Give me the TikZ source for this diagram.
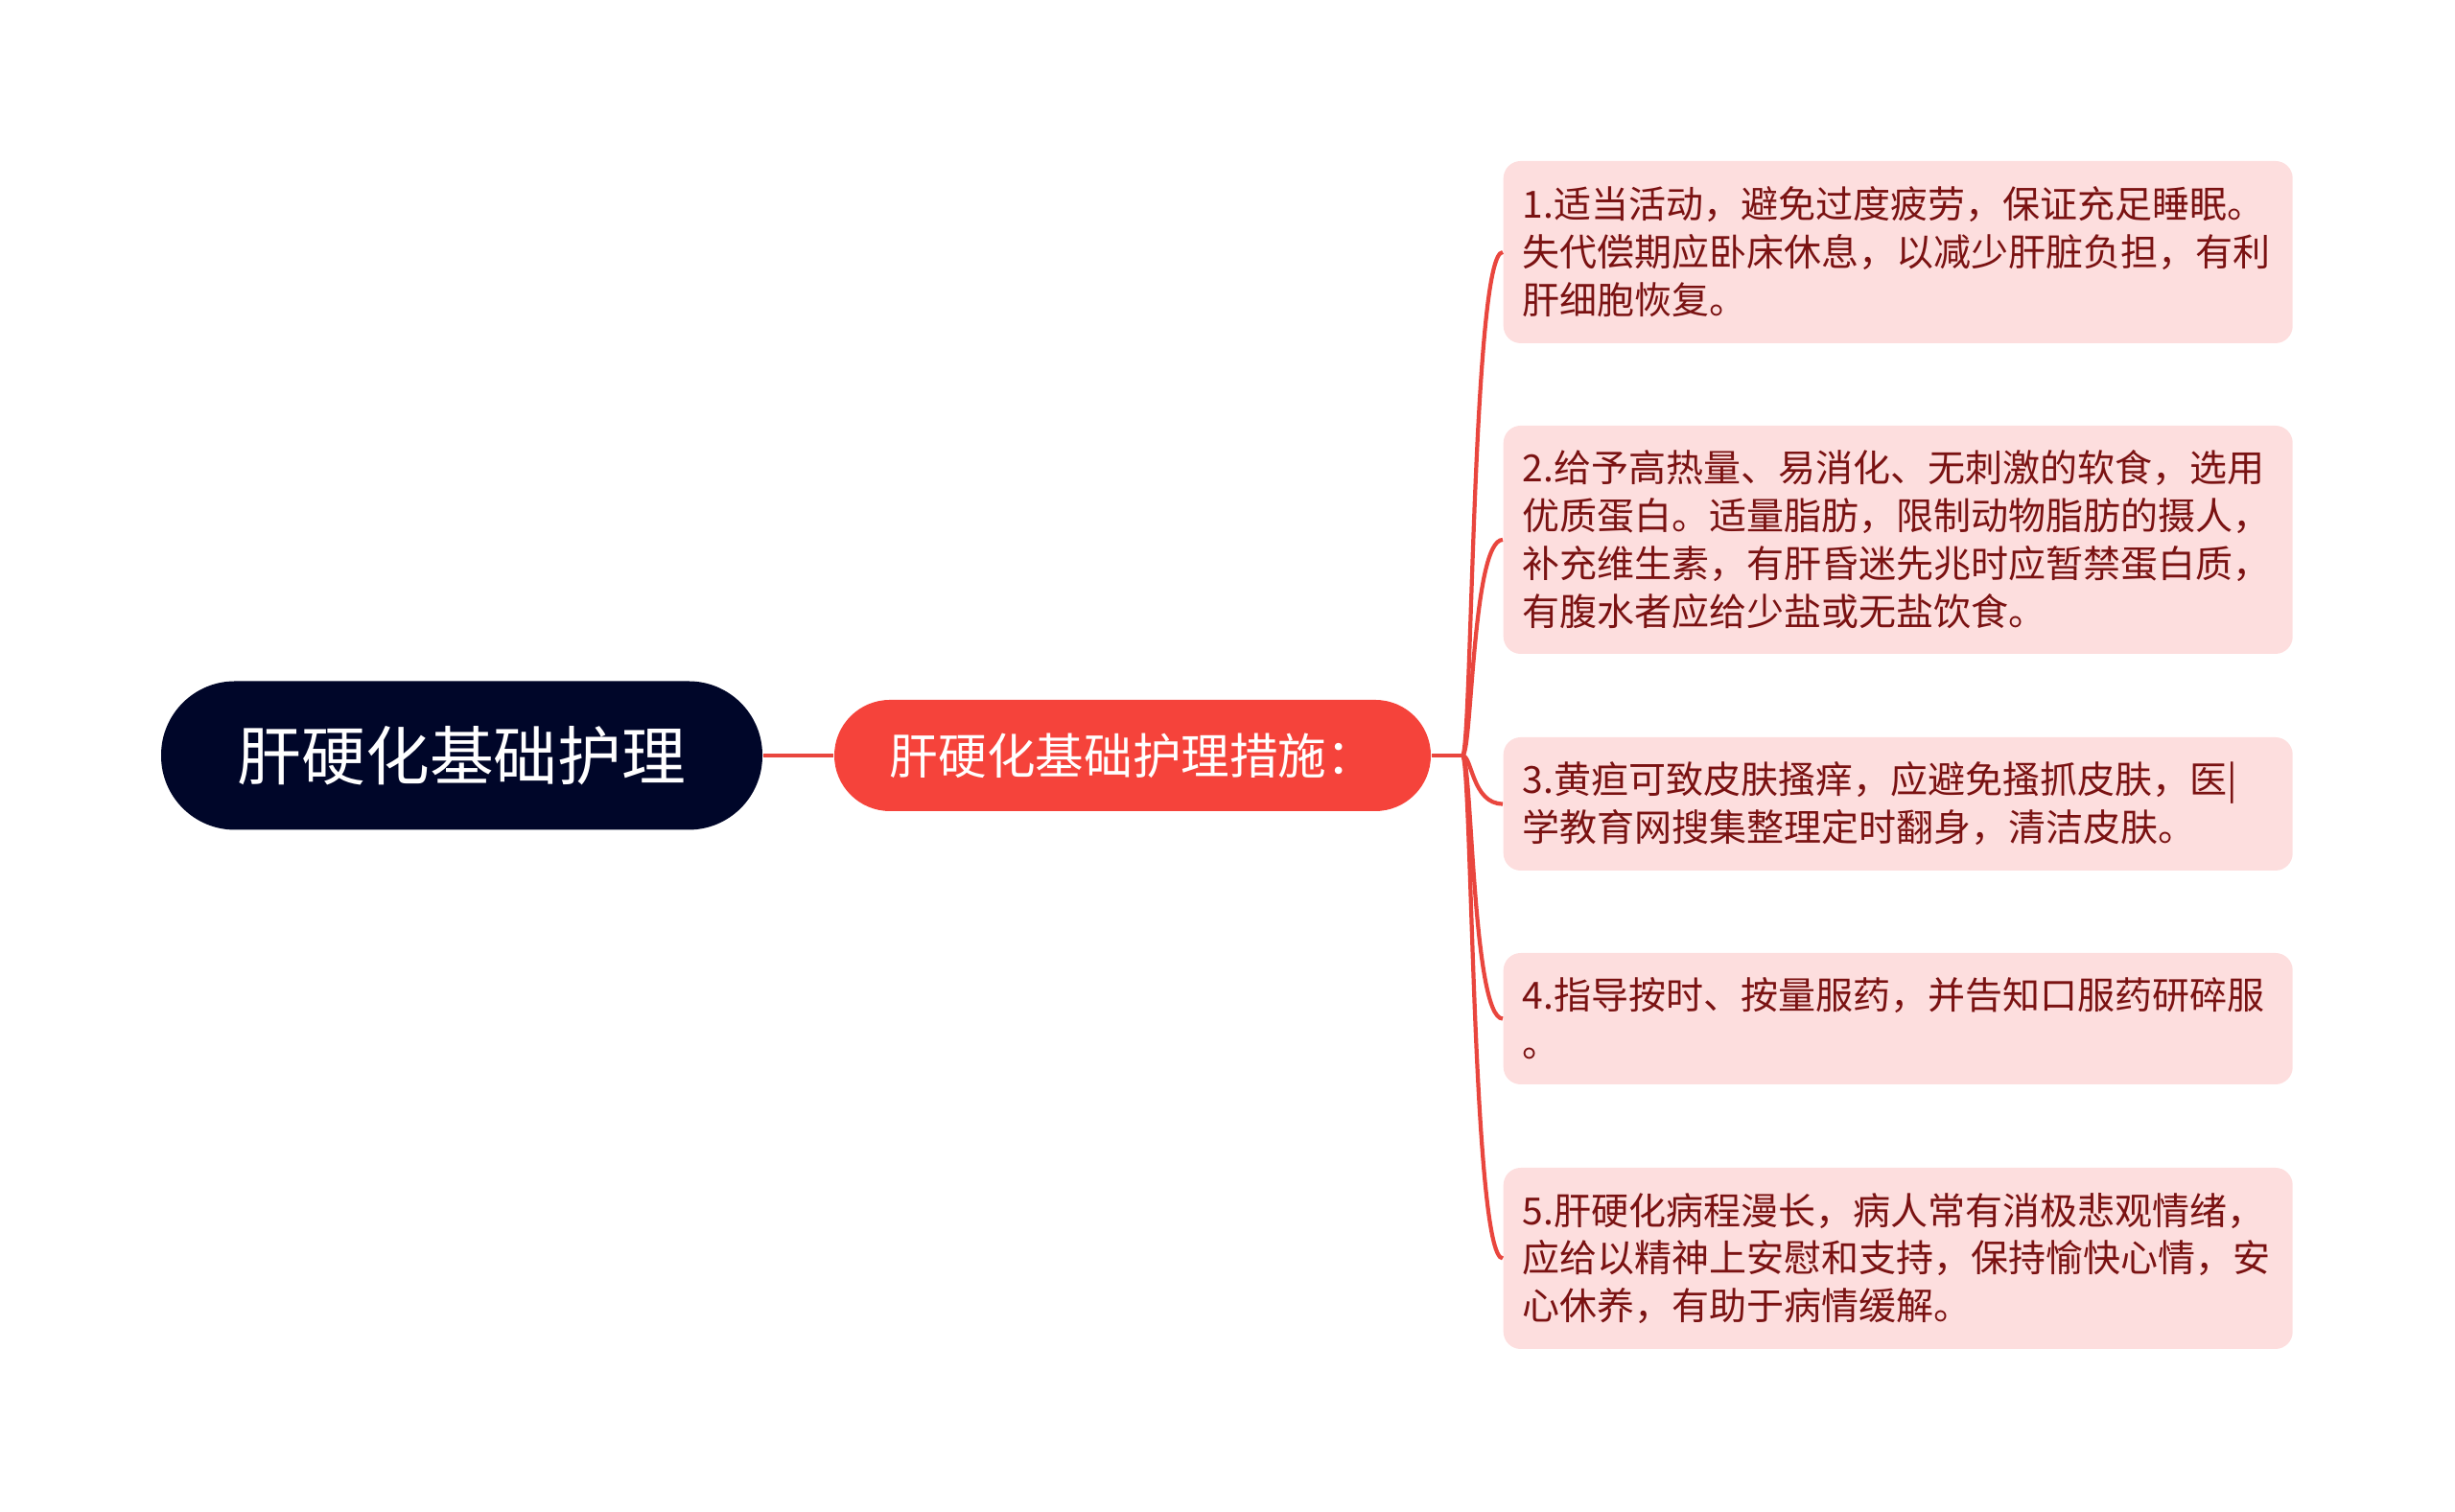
\documentclass[tikz,border=0pt]{standalone}
\usepackage{fontspec}
\setmainfont{Noto Sans CJK SC}
\definecolor{rootblue}{HTML}{000629}
\definecolor{branchred}{HTML}{F5433B}
\definecolor{leafpink}{HTML}{FDDEDE}
\definecolor{leaftext}{HTML}{7A1212}
\definecolor{linkred}{HTML}{E9463E}
\newcommand{\Tip}[3]{%
  node (#1) [tip, minimum height=#2] {#3};
}

\begin{document}
\begin{tikzpicture}[
    root/.style={fill=rootblue, text=white, rounded corners=0.77cm,
      minimum width=6.27cm, minimum height=1.55cm, font=\fontsize{19}{22}\selectfont},
    branch/.style={fill=branchred, text=white, rounded corners=0.58cm,
      minimum width=6.22cm, minimum height=1.16cm, font=\fontsize{14.4}{17}\selectfont},
    tip/.style={fill=leafpink, text=leaftext, rounded corners=0.18cm, anchor=west,
      text width=7.83cm, inner xsep=0.2cm, inner ysep=0.2cm, align=left,
      font=\fontsize{11.1}{14.2}\selectfont},
    link/.style={draw=linkred, line width=1.2pt}
  ]
    \useasboundingbox (0,0) rectangle (25.6,15.77);

    \node (root) [root] at (4.815,7.89) {肝硬化基础护理};
    \node (measures) [branch] at (11.81,7.89) {肝硬化基础护理措施：};

    \draw (15.67,13.14) \Tip{rest}{1.9cm}
      {1.适当活动，避免过度疲劳，保证充足睡眠。\\失代偿期应卧床休息，以减少肝脏负担，有利\\肝细胞恢复。}
    \draw (15.67,10.14) \Tip{diet}{2.38cm}
      {2.给予高热量、易消化、无刺激的软食，选用\\优质蛋白。适量脂肪，限制动物脂肪的摄人，\\补充维生素，有肝昏迷先兆时应暂禁蛋白质，\\有腹水者应给少盐或无盐饮食。}
    \draw (15.67,7.385) \Tip{skin}{1.39cm}
      {3.黄疸可致皮肤搔痒，应避免搔抓皮肤，医|\\学教育网搜集整理定时翻身，清洁皮肤。}
    \draw (15.67,5.145) \Tip{medicine}{1.37cm}
      {4.指导按时、按量服药，并告知口服药研碎服\\。}
    \draw (15.67,2.645) \Tip{mood}{1.89cm}
      {5.肝硬化病程漫长，病人常有消极悲观情绪，\\应给以精神上安慰和支持，保持愉快心情，安\\心休养，有助于病情缓解。}

    \draw[link] (root) -- (measures);
    \coordinate (hub) at (15.25,7.89);
    \draw[link] (measures.east) -- (hub);
    \foreach \t in {rest,diet,skin,medicine,mood}
      \draw[link] (hub) .. controls +(0.1,0) and +(-0.32,0) .. (\t.west);
  \end{tikzpicture}
\end{document}
